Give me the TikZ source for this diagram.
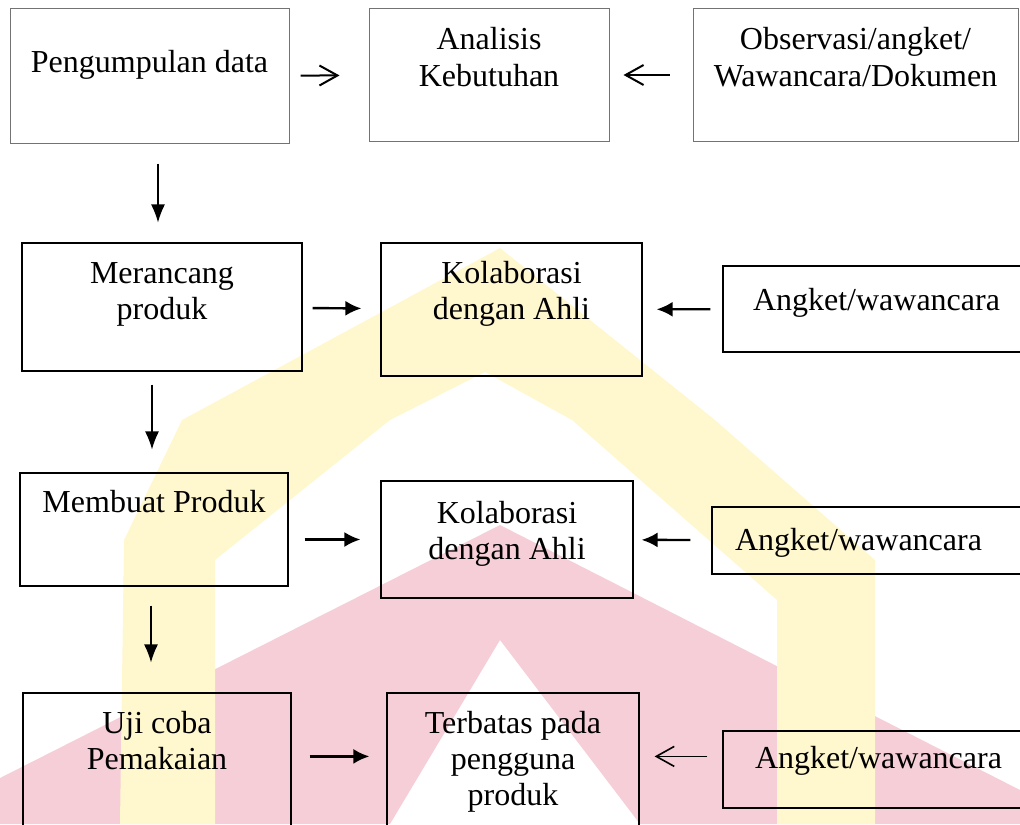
\documentclass[tikz,border=0pt]{standalone}
\usepackage{fontspec}
\setmainfont{Liberation Serif}
\usetikzlibrary{arrows.meta,positioning}
\tikzset{
  kotak/.style={draw=black, line width=0.6pt, inner sep=0pt},
  kotakabu/.style={draw=black!55, line width=0.5pt, inner sep=0pt},
  panah/.style={line width=1.2pt, -{Latex[length=8pt,width=7.5pt]}},
  panahbuka/.style={line width=1pt, -{Straight Barb[length=9pt,width=10pt]}},
  turun/.style={line width=0.6pt, -{Latex[length=9pt,width=7pt]}},
}
\definecolor{wmkuning}{RGB}{255,248,206}
\definecolor{wmmerah}{RGB}{246,206,216}
% isi kotak: lebar, tinggi, jarak baris pertama, teks
\newcommand\isikotak[4]{\parbox[c][#2][t]{#1}{\rule{0pt}{#3}#4}}
\begin{document}
\begin{tikzpicture}[x=0.5pt,y=-0.5pt,font=\fontsize{16}{18}\selectfont]
\useasboundingbox (0,0) rectangle (1020,824);
\clip (0,0) rectangle (1020,824);
% watermark
\fill[wmmerah] (500,525) -- (0,778) -- (0,824) -- (390,824) -- (500,640)
  -- (640,824) -- (1020,824) -- (1020,790) -- cycle;
\fill[wmkuning] (500,248) -- (182,420) -- (124,540) -- (120,824) -- (215,824)
  -- (215,560) -- (390,420) -- (485,372) -- (572,420) -- (777,600) -- (777,824)
  -- (875,824) -- (875,560) -- (715,420) -- cycle;

% baris 1
\node[kotakabu] (kumpul) at (149.5,76) {\isikotak{139.5pt}{67pt}{32pt}{\centering Pengumpulan data}};
\node[kotakabu] (analisis) at (489,75) {\isikotak{120pt}{66pt}{20.5pt}{\centering Analisis\\Kebutuhan}};
\node[kotakabu] (observasi) at (855.5,75) {\isikotak{162.5pt}{66pt}{20.5pt}{\centering Observasi/angket/\\Wawancara/Dokumen}};
% baris 2
\node[kotak] (rancang) at (162,307) {\isikotak{140pt}{64pt}{20pt}{\centering Merancang\\produk}};
\node[kotak] (kolab1) at (511.5,309.5) {\isikotak{130.5pt}{66.5pt}{20pt}{\centering Kolaborasi\\dengan Ahli}};
\node[kotak] (angket1) at (876.5,309) {\isikotak{153.5pt}{43pt}{22pt}{\hspace*{15pt}Angket/wawancara}};
% baris 3
\node[kotak] (buat) at (154,529.5) {\isikotak{134pt}{56.5pt}{19.5pt}{\centering Membuat Produk}};
\node[kotak] (kolab2) at (507,539.5) {\isikotak{126pt}{58.5pt}{21pt}{\centering Kolaborasi\\dengan Ahli}};
\node[kotak] (angket2) at (871,540.5) {\isikotak{159pt}{33.5pt}{21.5pt}{\hspace*{11.5pt}Angket/wawancara}};
% baris 4
\node[kotak] (uji) at (157,771.5) {\isikotak{134pt}{78.5pt}{20pt}{\centering Uji coba\\Pemakaian}};
\node[kotak] (terbatas) at (513,771.5) {\isikotak{126pt}{78.5pt}{20pt}{\centering Terbatas pada\\pengguna\\produk}};
\node[kotak] (angket3) at (876.5,769.5) {\isikotak{153.5pt}{38.5pt}{18.5pt}{\hspace*{16pt}Angket/wawancara}};

% panah
\draw[panahbuka,shorten <=5.5pt,shorten >=14.5pt] (kumpul) -- (analisis);
\draw[panahbuka,shorten <=11.5pt,shorten >=7pt] (observasi) -- (analisis);
\draw[panah,shorten <=5pt,shorten >=9.5pt] (rancang) -- (kolab1);
\draw[panah,shorten <=6pt,shorten >=7pt] (angket1) -- (kolab1);
\draw[panah,shorten <=8pt,shorten >=10pt] (buat.east |- kolab2) -- (kolab2);
\draw[panah,shorten <=10.5pt,shorten >=4pt] (angket2) -- (kolab2);
\coordinate (p4) at ([yshift=-32pt]terbatas.north east);
\coordinate (p4b) at ([yshift=-32pt]terbatas.north west);
\draw[panah,shorten <=9pt,shorten >=8.5pt] (uji.east |- p4b) -- (p4b);
\draw[panahbuka,line width=0.8pt,shorten <=7.5pt,shorten >=7.5pt] (angket3.west |- p4) -- (p4);
\draw[turun,shorten <=10pt,shorten >=10pt] (kumpul.south -| 158,0) -- (rancang.north -| 158,0);
\draw[turun,shorten <=6.5pt,shorten >=11.5pt] (rancang.south -| 152,0) -- (buat.north -| 152,0);
\draw[turun,shorten <=9.5pt,shorten >=15pt] (buat.south -| 151,0) -- (uji.north -| 151,0);
\end{tikzpicture}
\end{document}
